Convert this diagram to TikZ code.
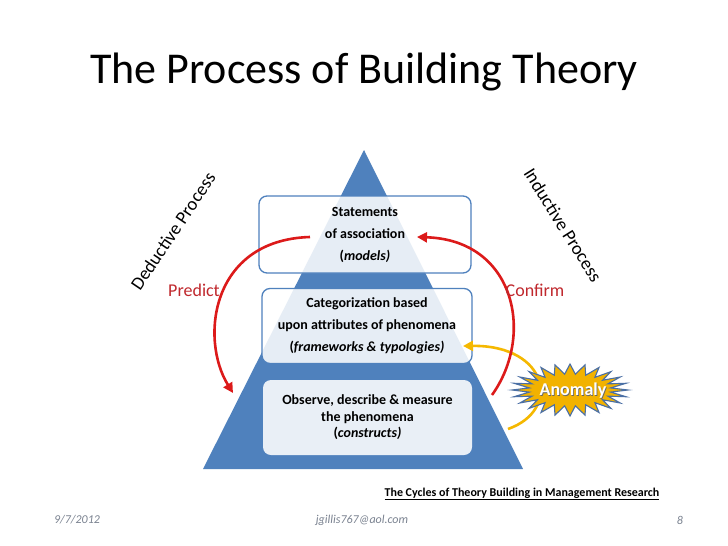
\documentclass[tikz,border=0pt]{standalone}
\usepackage{fontspec}
\setmainfont{Carlito}
\usetikzlibrary{arrows.meta}
\definecolor{pblue}{HTML}{4F81BD}
\definecolor{arrred}{HTML}{DC1A1A}
\definecolor{txtred}{HTML}{C0282D}
\definecolor{arryel}{HTML}{F5B800}
\definecolor{staryel}{HTML}{F2B200}
\definecolor{starblue}{HTML}{4A6FA5}
\definecolor{footgray}{HTML}{7A8290}
\tikzset{
  levelbox/.style={draw=pblue, line width=1.3pt, fill=white, fill opacity=0.86, text opacity=1,
    rounded corners=8pt, align=center, font=\bfseries\fontsize{14}{22}\selectfont},
  basebox/.style={fill=white, fill opacity=0.88, text opacity=1, rounded corners=8pt,
    align=center, font=\bfseries\fontsize{14}{16.5}\selectfont},
  redarrow/.style={draw=arrred, line width=2.6pt, -{Triangle[length=10pt,width=10pt]}},
  yelarrow/.style={draw=arryel, line width=2.6pt, -{Triangle[length=10pt,width=10pt]}},
  sidetext/.style={font=\fontsize{18.5}{20}\selectfont},
  verbtext/.style={font=\fontsize{18}{20}\selectfont, text=txtred},
  foot/.style={font=\itshape\fontsize{12}{14}\selectfont, text=footgray}
}
\begin{document}
\begin{tikzpicture}[x=1pt,y=-1pt]
\fill[white] (0,0) rectangle (728,546);
\useasboundingbox (0,0) rectangle (728,546);

% title
\node[anchor=base, font=\fontsize{44}{50}\selectfont] (title) at (364,83) {The Process of Building Theory};

% pyramid
\coordinate (apex) at (364,150);
\coordinate (bl) at (203,469);
\coordinate (br) at (523,469);
\fill[pblue] (apex) -- (br) -- (bl) -- cycle;

% boxes
\node[levelbox, minimum width=212pt, minimum height=77pt] (box1) at (365,234.5)
  {Statements\\of association\\(\textit{models)}};
\node[levelbox, minimum width=210pt, minimum height=75pt] (box2) at (367,326)
  {Categorization based\\upon attributes of phenomena\\(\textit{frameworks \& typologies)}};
\node[basebox, minimum width=209pt, minimum height=75pt] (box3) at (367.5,417.5)
  {Observe, describe \& measure\\the phenomena\\(\textit{constructs)}};

% yellow arrow (anomaly)
\coordinate (yStart) at (508,429);
\coordinate (yEnd) at (463,346);
\draw[yelarrow] (yStart) .. controls (562,410) and (548,345) .. (yEnd);

% star
\filldraw[draw=starblue, fill=staryel, line width=1.1pt]
  (628,390) \foreach \i in {1,...,47} { -- ({570+(58-17*mod(\i,2))*cos(7.5*\i)}, {390+(26-10*mod(\i,2))*sin(7.5*\i)}) } -- cycle;
\node[font=\bfseries\fontsize{18}{20}\selectfont, text=black!60] at (573.7,391.7) {Anomaly};
\node[font=\bfseries\fontsize{18}{20}\selectfont, text=white] (anomaly) at (573,391) {Anomaly};

% red arrows
\coordinate (pStart) at (310,237);
\coordinate (pEnd) at (233,393);
\draw[redarrow] (pStart) .. controls (210,240) and (200,340) .. (pEnd);
\coordinate (cStart) at (492,395);
\coordinate (cEnd) at (417,237);
\draw[redarrow] (cStart) .. controls (535,335) and (515,240) .. (cEnd);

% side labels
\node[sidetext, rotate=56] (deduct) at (173,231) {Deductive Process};
\node[sidetext, rotate=-58] (induct) at (563,225) {Inductive Process};
\node[verbtext] (predict) at (194,290) {Predict};
\node[verbtext] (confirm) at (535,290) {Confirm};

% reference
\node[font=\bfseries\fontsize{12}{14}\selectfont] (ref) at (522,494)
  {\underline{The Cycles of Theory Building in Management Research}};

% footer
\node[foot] (date) at (77,520) {9/7/2012};
\node[foot] (mail) at (362,520) {jgillis767@aol.com};
\node[foot] (page) at (680,520) {8};
\end{tikzpicture}
\end{document}
